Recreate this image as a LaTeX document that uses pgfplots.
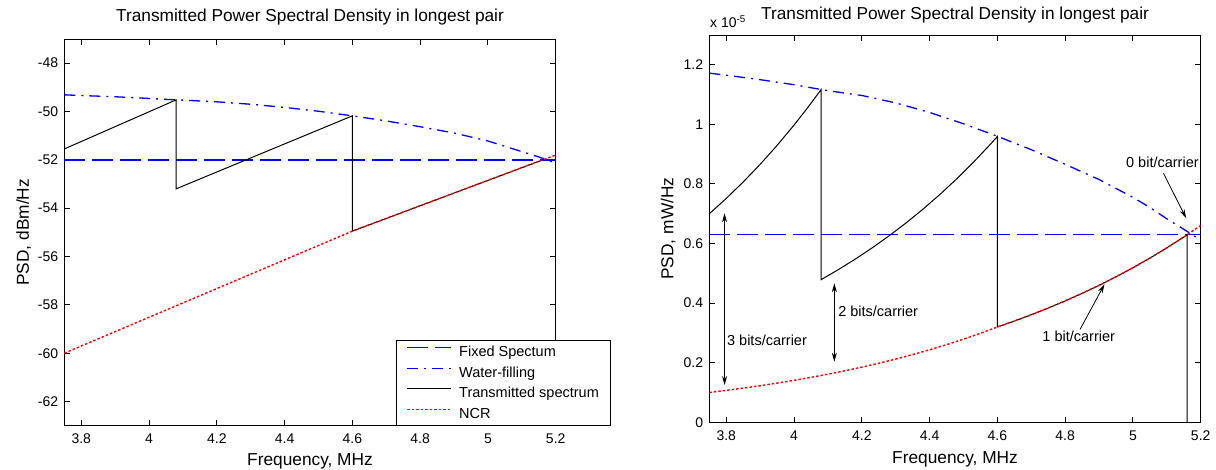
\documentclass[border=0pt]{standalone}
\usepackage{fontspec}
\setmainfont{Liberation Sans}
\usepackage{pgfplots}
\pgfplotsset{compat=1.18}
\usetikzlibrary{arrows.meta}

\newcommand{\tickfont}{\fontsize{14bp}{16bp}\selectfont}
\newcommand{\labfont}{\fontsize{17.3bp}{20bp}\selectfont}
\newcommand{\legfont}{\fontsize{14.5bp}{21.7bp}\selectfont}

\definecolor{mblue}{RGB}{0,0,255}
\definecolor{mred}{RGB}{255,0,0}

\pgfplotsset{
 mystyle/.style={
  scale only axis, width=491.4bp,
  xmin=3.75, xmax=5.2,
  axis line style={line width=0.9bp, black},
  tick align=inside, major tick length=5.7bp, tick style={line width=0.9bp, black},
  xtick pos=both, ytick pos=both, xticklabel pos=lower, yticklabel pos=left,
  xtick={3.8,4.0,4.2,4.4,4.6,4.8,5.0,5.2},
  xticklabels={3.8,4,4.2,4.4,4.6,4.8,5,5.2},
  xticklabel style={font=\tickfont, anchor=base, yshift=-18bp, inner sep=0pt},
  yticklabel style={font=\tickfont, anchor=east, xshift=-6bp, inner sep=0pt},
  label style={font=\labfont},
  title style={font=\labfont},
  xlabel={Frequency, MHz},
  title={Transmitted Power Spectral Density in longest pair},
  clip=false,
 },
 fixedsty/.style={draw=mblue, color=mblue, line width=1.4bp, dash pattern=on 21bp off 7bp},
 wfsty/.style={draw=mblue, color=mblue, line width=1.3bp, dash pattern=on 11bp off 6bp on 2bp off 6bp},
 txsty/.style={draw=black, color=black, line width=1bp, solid},
 ncrsty/.style={draw=mred, color=mred, line width=1.4bp, dash pattern=on 2.5bp off 2bp},
}

\begin{document}
\begin{tikzpicture}[x=1bp,y=1bp]
\useasboundingbox (0,0) rectangle (1216,470);

% ---------------- left axis (dB) ----------------
\begin{axis}[mystyle,
  at={(64.3bp,44.3bp)}, anchor=south west, height=386.7bp,
  ymin=-63, ymax=-47,
  ytick={-62,-60,-58,-56,-54,-52,-50,-48},
  yticklabels={-62,-60,-58,-56,-54,-52,-50,-48},
  ylabel={PSD, dBm/Hz},
  ylabel style={at={(axis description cs:-0.0722,0.5)}, anchor=base},
  xlabel style={at={(axis description cs:0.5,-0.1024)}, anchor=base},
  title style={at={(axis description cs:0.5,1.0303)}, anchor=base},
  legend style={at={(axis description cs:1.1125,0)}, anchor=south east,
    font=\legfont, draw=black, fill=white, line width=0.9bp,
    inner xsep=9.7bp, inner ysep=3.5bp, row sep=4.7bp, column sep=5.3bp},
  legend cell align=left,
  legend image code/.code={\draw[#1] (0bp,4.6bp) -- (44bp,4.6bp);},
]
\addplot[fixedsty] table {
x y
3.75 -52
5.20 -52
};
\addlegendentry{Fixed Spectum}
\addplot[wfsty] table {
x y
3.75 -49.31
3.80 -49.34
3.90 -49.39
4.00 -49.46
4.08 -49.52
4.10 -49.53
4.20 -49.60
4.30 -49.70
4.40 -49.83
4.50 -49.99
4.60 -50.18
4.70 -50.39
4.80 -50.63
4.90 -50.89
5.00 -51.22
5.10 -51.66
5.15 -51.88
5.20 -52.14
};
\addlegendentry{Water-filling}
\addplot[txsty] table {
x y
3.75 -51.55
4.08 -49.52
4.08 -53.20
4.60 -50.18
4.60 -54.95
5.16 -52.01
};
\addlegendentry{Transmitted spectrum}
\addplot[ncrsty] table {
x y
3.75 -60.00
4.60 -54.95
5.20 -51.80
};
\addlegendentry{NCR}
\end{axis}

% ---------------- right axis (linear, x 1e-5) ----------------
\begin{axis}[mystyle,
  at={(709.3bp,47.7bp)}, anchor=south west, height=387.3bp,
  ymin=0, ymax=1.3,
  ytick={0,0.2,0.4,0.6,0.8,1.0,1.2},
  yticklabels={0,0.2,0.4,0.6,0.8,1,1.2},
  ylabel={PSD, mW/Hz},
  ylabel style={at={(axis description cs:-0.0729,0.5)}, anchor=base},
  xlabel style={at={(axis description cs:0.5,-0.1059)}, anchor=base},
  title style={at={(axis description cs:0.5,1.0258)}, anchor=base},
]
\addplot[fixedsty] table {
x y
3.75 0.631
5.20 0.631
};
\addplot[wfsty] table {
x y
3.75 1.172
3.80 1.165
3.90 1.150
4.00 1.133
4.08 1.117
4.10 1.113
4.20 1.097
4.30 1.072
4.40 1.040
4.50 1.002
4.60 0.960
4.70 0.915
4.80 0.866
4.90 0.815
5.00 0.755
5.05 0.721
5.10 0.683
5.15 0.648
5.20 0.611
};
\addplot[txsty] table {
x y
3.75 0.7000
3.80 0.7514
3.85 0.8066
3.90 0.8658
3.95 0.9294
4.00 0.9976
4.04 1.0556
4.08 1.1171
4.08 0.4788
4.13 0.5119
4.18 0.5473
4.23 0.5851
4.28 0.6255
4.33 0.6687
4.38 0.7149
4.43 0.7643
4.48 0.8171
4.53 0.8736
4.58 0.9340
4.60 0.9594
4.60 0.3199
4.65 0.3398
4.70 0.3610
4.75 0.3835
4.80 0.4074
4.85 0.4328
4.90 0.4597
4.95 0.4884
5.00 0.5188
5.05 0.5511
5.10 0.5854
5.15 0.6219
5.16 0.6295
5.16 0.0000
};
\addplot[ncrsty] table {
x y
3.75 0.1000
3.80 0.1071
3.85 0.1147
3.90 0.1228
3.95 0.1315
4.00 0.1408
4.05 0.1508
4.10 0.1614
4.15 0.1729
4.20 0.1851
4.25 0.1982
4.30 0.2122
4.35 0.2273
4.40 0.2433
4.45 0.2606
4.50 0.2790
4.55 0.2988
4.60 0.3199
4.65 0.3398
4.70 0.3610
4.75 0.3835
4.80 0.4074
4.85 0.4328
4.90 0.4597
4.95 0.4884
5.00 0.5188
5.05 0.5511
5.10 0.5854
5.15 0.6219
5.20 0.6606
};
\node[anchor=base west, font=\tickfont, inner sep=0pt] at (axis description cs:0.0014,1.0199) {x 10\textsuperscript{-5}};
\draw[{Stealth[length=9bp,width=5bp]}-{Stealth[length=9bp,width=5bp]}, line width=0.8bp] (axis cs:3.795,0.7015) -- (axis cs:3.795,0.125);
\node[anchor=west, font=\legfont, inner sep=0pt] at (axis cs:3.802,0.274) {3 bits/carrier};
\draw[{Stealth[length=9bp,width=5bp]}-{Stealth[length=9bp,width=5bp]}, line width=0.8bp] (axis cs:4.119,0.4666) -- (axis cs:4.119,0.2034);
\node[anchor=west, font=\legfont, inner sep=0pt] at (axis cs:4.130,0.371) {2 bits/carrier};
\node[font=\legfont, inner sep=0pt] at (axis cs:4.84,0.287) {1 bit/carrier};
\draw[-{Stealth[length=9bp,width=5bp]}, line width=0.8bp] (axis cs:4.844,0.312) -- (axis cs:4.916,0.463);
\node[font=\legfont, inner sep=0pt] at (axis cs:5.087,0.871) {0 bit/carrier};
\draw[-{Stealth[length=9bp,width=5bp]}, line width=0.8bp] (axis cs:5.090,0.836) -- (axis cs:5.157,0.685);
\end{axis}
\end{tikzpicture}
\end{document}
